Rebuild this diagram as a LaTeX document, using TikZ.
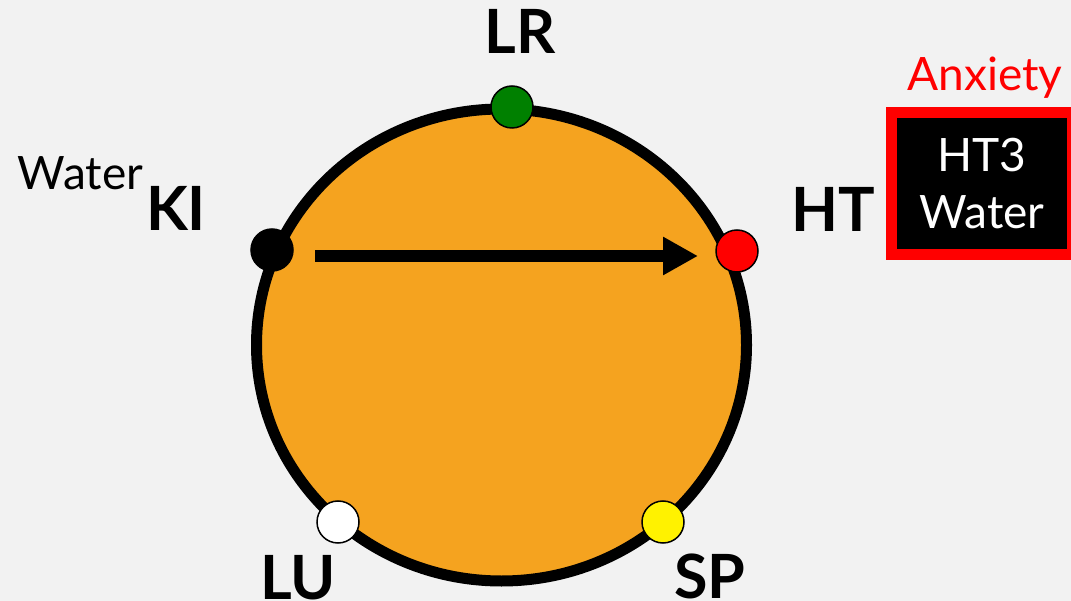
\documentclass[tikz,border=0pt]{standalone}
\usepackage{fontspec}
\setmainfont{Lato}
\usetikzlibrary{arrows.meta,shapes.geometric}
\definecolor{slidebg}{HTML}{F2F2F2}
\definecolor{wheelorange}{HTML}{F5A31F}
\definecolor{woodgreen}{HTML}{008000}

\begin{document}
\begin{tikzpicture}[x=1pt,y=-1pt,
        dot/.style={circle, draw=black, line width=1.5pt, minimum size=42pt, inner sep=0pt, outer sep=0pt},
        organ/.style={font=\fontsize{61}{61}\selectfont\bfseries, inner sep=0pt, anchor=base},
        element/.style={font=\fontsize{46}{46}\selectfont, inner sep=0pt, anchor=base},
        flow/.style={line width=12pt, -{Triangle[length=35pt, width=36pt]}}]
        % slide background
        \fill[slidebg] (0,0) rectangle (1071,601);
        \useasboundingbox (0,0) rectangle (1071,601);
        % the wheel
        \node[ellipse, draw=black, fill=wheelorange, line width=11pt, minimum width=490pt, minimum height=472pt, inner sep=0pt] (wheel) at (501.5,345) {};
        % draw 5 points on the wheel
        \node[dot, fill=woodgreen] (LRdot) at (512,107) {};
        \node[dot, fill=red] (HTdot) at (737,251) {};
        \node[dot, fill=black] (KIdot) at (272,250) {};
        \node[dot, fill=white] (LUdot) at (338,522) {};
        \node[dot, fill=yellow] (SPdot) at (663,522) {};
        % names of the points
        \node[organ] (LR) at (520,54) {LR};
        \node[organ] (KI) at (176,231) {KI};
        \node[organ] (HT) at (833,232) {HT};
        \node[organ] (LU) at (298,599) {LU};
        \node[organ] (SP) at (710,598) {SP};
        \node[element] (KIwater) at (80.5,190) {Water};
        % box on the right
        \node[draw=red, fill=black, line width=11pt, minimum width=181pt, minimum height=142pt, text=white, align=center, font=\fontsize{46}{57}\selectfont] (HTbox) at (982,183.5) {HT3\\Water};
        \node[element, text=red] (anxiety) at (985,91) {Anxiety};
        \draw[flow] ([xshift=22pt, yshift=-6pt]KIdot.east) -- ([xshift=-18pt, yshift=-5pt]HTdot.west);
    \end{tikzpicture}
\end{document}
